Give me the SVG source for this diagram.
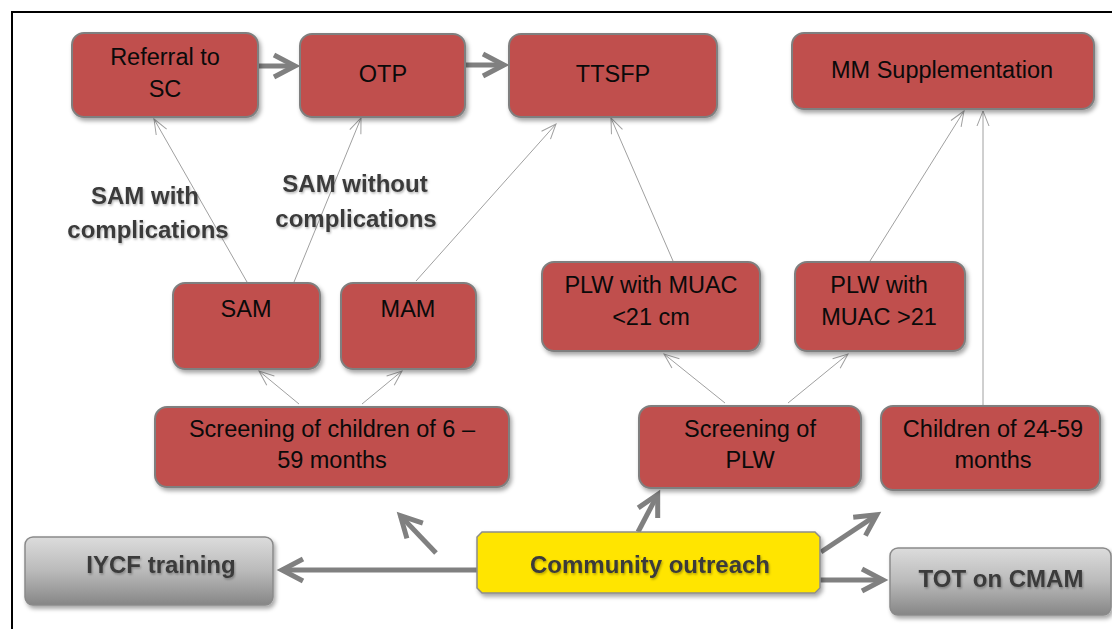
<svg xmlns="http://www.w3.org/2000/svg" width="1112" height="629" viewBox="0 0 1112 629">
<defs>
<style>
.box{fill:#C0504D;stroke:#7f7f7f;stroke-width:2}
.t{font-family:"Liberation Sans",Arial,sans-serif;font-size:23.5px;fill:#0a0a0a;text-anchor:middle}
.b{font-family:"Liberation Sans",Arial,sans-serif;font-size:24px;font-weight:bold;fill:#3a3a3a;text-anchor:middle}
.thin{stroke:#a0a0a0;stroke-width:1;fill:none;marker-end:url(#mthin)}
.thick{stroke:#808080;stroke-width:5;fill:none;marker-end:url(#mthick)}
.grey{fill:url(#gg);stroke:#8a8a8a;stroke-width:1.5}
</style>
<linearGradient id="gg" x1="0" y1="0" x2="0" y2="1">
<stop offset="0" stop-color="#dcdcdc"/>
<stop offset="0.5" stop-color="#bababa"/>
<stop offset="1" stop-color="#868686"/>
</linearGradient>
<filter id="sh" x="-10%" y="-10%" width="130%" height="140%">
<feDropShadow dx="2" dy="3" stdDeviation="2" flood-color="#000" flood-opacity="0.35"/>
</filter>
<filter id="tsh" x="-10%" y="-30%" width="130%" height="170%">
<feDropShadow dx="1" dy="1.5" stdDeviation="1" flood-color="#000" flood-opacity="0.3"/>
</filter>
<marker id="mthin" viewBox="-18 -10 20 20" markerWidth="20" markerHeight="20" refX="0" refY="0" orient="auto" markerUnits="userSpaceOnUse">
<path d="M-15,-6 L0,0 L-15,6" fill="none" stroke="#a0a0a0" stroke-width="1"/>
</marker>
<marker id="mthick" viewBox="-30 -16 40 32" markerWidth="40" markerHeight="32" refX="0" refY="0" orient="auto" markerUnits="userSpaceOnUse">
<path d="M-21,-11 L0,0 L-21,11" fill="none" stroke="#808080" stroke-width="5" stroke-linejoin="miter"/>
</marker>
</defs>
<rect x="0" y="0" width="1112" height="629" fill="#fff"/>
<rect x="12" y="12" width="1110" height="630" fill="none" stroke="#000" stroke-width="2"/>

<g id="connectors">
<line class="thick" x1="258" y1="66" x2="295" y2="66"/>
<line class="thick" x1="465" y1="65" x2="504" y2="65"/>
<line class="thick" x1="478" y1="570" x2="282" y2="570"/>
<line class="thick" x1="436" y1="553" x2="400.4" y2="515.6"/>
<line class="thick" x1="638" y1="532" x2="657.7" y2="494.4"/>
<line class="thick" x1="821" y1="552" x2="876.8" y2="514.8"/>
<line class="thick" x1="820" y1="580" x2="883" y2="580"/>
<line class="thin" x1="247" y1="282" x2="154" y2="119"/>
<line class="thin" x1="294" y1="282" x2="361" y2="118"/>
<line class="thin" x1="416" y1="281" x2="556" y2="124"/>
<line class="thin" x1="673" y1="261" x2="611" y2="118"/>
<line class="thin" x1="870" y1="261" x2="964" y2="111"/>
<line class="thin" x1="983" y1="405" x2="983" y2="111"/>
<line class="thin" x1="299" y1="404" x2="259" y2="371"/>
<line class="thin" x1="362" y1="404" x2="402" y2="371"/>
<line class="thin" x1="725" y1="403" x2="664" y2="354"/>
<line class="thin" x1="788" y1="403" x2="848" y2="354"/>
</g>

<g id="labels" filter="url(#tsh)">
<text class="b" x="145" y="204">SAM with</text>
<text class="b" x="148" y="238">complications</text>
<text class="b" x="355" y="192">SAM without</text>
<text class="b" x="356" y="227">complications</text>
</g>

<g id="referral"><rect class="box" filter="url(#sh)" x="72" y="33" width="186" height="84" rx="12"/>
<text class="t" x="165" y="65">Referral to</text><text class="t" x="165" y="97">SC</text></g>
<g id="otp"><rect class="box" filter="url(#sh)" x="300" y="34" width="165" height="83" rx="12"/>
<text class="t" x="383" y="82">OTP</text></g>
<g id="ttsfp"><rect class="box" filter="url(#sh)" x="509" y="34" width="208" height="83" rx="12"/>
<text class="t" x="613" y="82">TTSFP</text></g>
<g id="mm"><rect class="box" filter="url(#sh)" x="792" y="33" width="302" height="76" rx="12"/>
<text class="t" x="942" y="78">MM Supplementation</text></g>
<g id="sam"><rect class="box" filter="url(#sh)" x="173" y="283" width="147" height="86" rx="12"/>
<text class="t" x="246" y="317">SAM</text></g>
<g id="mam"><rect class="box" filter="url(#sh)" x="341" y="283" width="135" height="86" rx="12"/>
<text class="t" x="408" y="317">MAM</text></g>
<g id="plw-lt21"><rect class="box" filter="url(#sh)" x="542" y="262" width="218" height="89" rx="12"/>
<text class="t" x="651" y="293">PLW with MUAC</text><text class="t" x="651" y="325">&lt;21 cm</text></g>
<g id="plw-gt21"><rect class="box" filter="url(#sh)" x="795" y="262" width="170" height="89" rx="12"/>
<text class="t" x="879" y="293">PLW with</text><text class="t" x="879" y="325">MUAC &gt;21</text></g>
<g id="screen-children"><rect class="box" filter="url(#sh)" x="155" y="407" width="354" height="80" rx="12"/>
<text class="t" x="332" y="437">Screening of children of 6 –</text><text class="t" x="332" y="468">59 months</text></g>
<g id="screen-plw"><rect class="box" filter="url(#sh)" x="639" y="406" width="222" height="82" rx="12"/>
<text class="t" x="750" y="437">Screening of</text><text class="t" x="750" y="468">PLW</text></g>
<g id="children"><rect class="box" filter="url(#sh)" x="881" y="406" width="219" height="84" rx="12"/>
<text class="t" x="993" y="437">Children of 24-59</text><text class="t" x="993" y="468">months</text></g>
<g id="iycf"><rect class="grey" filter="url(#sh)" x="25" y="537" width="248" height="68" rx="8"/>
<text class="b" filter="url(#tsh)" x="161" y="573">IYCF training</text></g>
<g id="community"><path filter="url(#sh)" d="M482,532 H815 L820,537 V588 L815,593 H482 L477,588 V537 Z" fill="#FFE500" stroke="#8c8c8c" stroke-width="1.5"/>
<text class="b" filter="url(#tsh)" x="650" y="573">Community outreach</text></g>
<g id="tot"><rect class="grey" filter="url(#sh)" x="890" y="548" width="221" height="67" rx="8"/>
<text class="b" filter="url(#tsh)" x="1001" y="587">TOT on CMAM</text></g>
</svg>
